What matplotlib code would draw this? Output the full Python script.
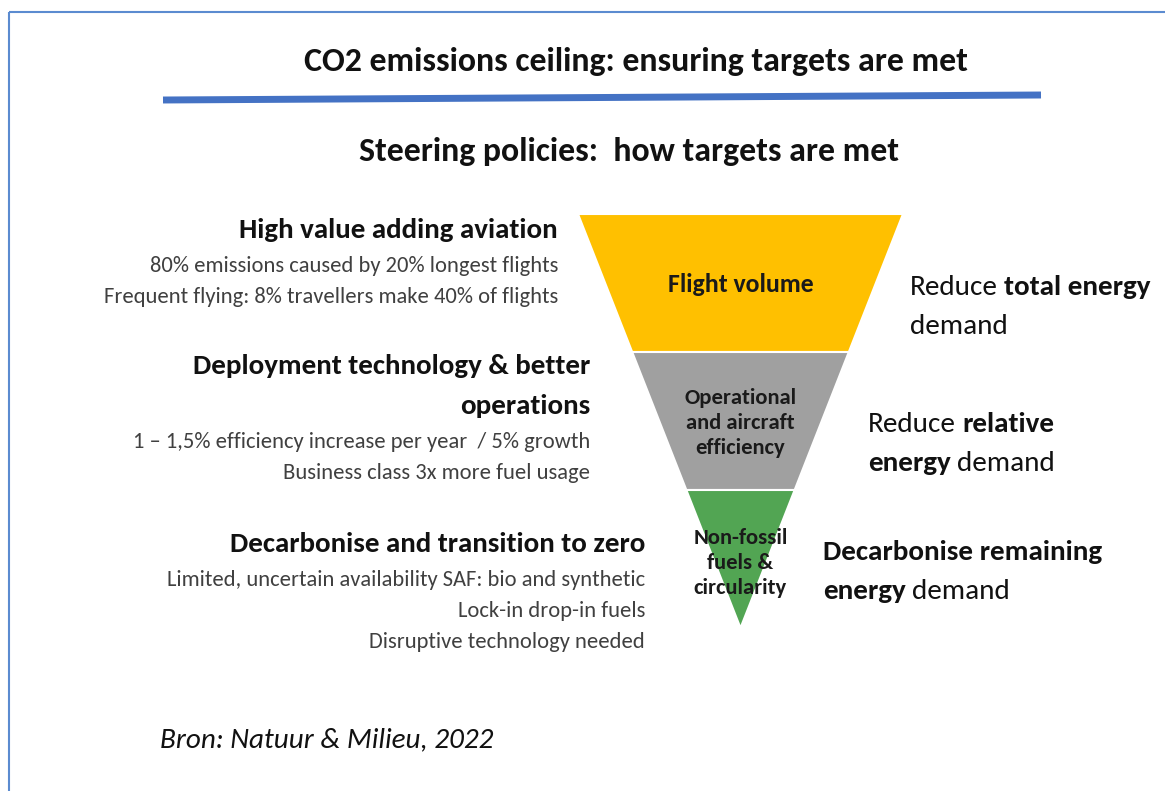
import matplotlib
matplotlib.use("Agg")
import matplotlib.pyplot as plt
from matplotlib import font_manager
from matplotlib.patches import Polygon, Rectangle

W, H = 1165, 791
names = {f.name for f in font_manager.fontManager.ttflist}
FONT = "Carlito" if "Carlito" in names else "Lato"

title = "CO2 emissions ceiling: ensuring targets are met"
subtitle = "Steering policies:  how targets are met"
source = "Bron: Natuur & Milieu, 2022"

# funnel stages, top to bottom
stages = ["Flight volume", "Operational\nand aircraft\nefficiency", "Non-fossil\nfuels &\ncircularity"]
stage_colors = ["#FFC000", "#A0A0A0", "#52A553"]
stage_share = [1, 1, 1]

# left side: policy headings and notes per stage
left_heads = [
    ["High value adding aviation"],
    ["Deployment technology & better", "operations"],
    ["Decarbonise and transition to zero"],
]
left_notes = [
    ["80% emissions caused by 20% longest flights",
     "Frequent flying: 8% travellers make 40% of flights"],
    ["1 \u2013 1,5% efficiency increase per year  / 5% growth",
     "Business class 3x more fuel usage"],
    ["Limited, uncertain availability SAF: bio and synthetic",
     "Lock-in drop-in fuels",
     "Disruptive technology needed"],
]
# right side: (text, bold) runs per line
right_lines = [
    [[("Reduce", False), ("total energy", True)], [("demand", False)]],
    [[("Reduce", False), ("relative", True)], [("energy", True), ("demand", False)]],
    [[("Decarbonise remaining", True)], [("energy", True), ("demand", False)]],
]

fig = plt.figure(figsize=(W / 100, H / 100), dpi=100)
ax = fig.add_axes([0, 0, 1, 1])
ax.set_xlim(0, W)
ax.set_ylim(H, 0)
ax.axis("off")
r = fig.canvas.get_renderer()

# frame and rule under the title
ax.add_patch(Rectangle((9, 12), W, H, fill=False, ec="#5B8BD0", lw=1.5))
ax.plot([163, 1041], [100, 95], color="#4472C4", lw=5, solid_capstyle="butt")

ax.text(636, 71, title, ha="center", va="baseline", fontsize=24.4,
        fontweight="bold", family=FONT, color="#111111")
ax.text(629, 161, subtitle, ha="center", va="baseline", fontsize=24.4,
        fontweight="bold", family=FONT, color="#111111")

# funnel
cx, top, tip, half = 740.5, 214, 628, 162.5
edges = [0]
for s in stage_share:
    edges.append(edges[-1] + s)
edges = [e / edges[-1] for e in edges]
label_y = [284, 423, 563]
for i, (lab, col) in enumerate(zip(stages, stage_colors)):
    y0 = top + edges[i] * (tip - top)
    y1 = top + edges[i + 1] * (tip - top)
    w0 = half * (1 - edges[i])
    w1 = half * (1 - edges[i + 1])
    ax.add_patch(Polygon([(cx - w0, y0), (cx + w0, y0), (cx + w1, y1), (cx - w1, y1)],
                         closed=True, fc=col, ec="white", lw=1.5))
    ax.text(cx, label_y[i], lab, ha="center", va="center",
            fontsize=18.5 if i == 0 else 16.3, fontweight="bold", family=FONT,
            color="#1a1a1a", linespacing=1.3)

# left texts
left_x = [558, 590, 645]
left_y = [238, 374, 552]
for x, y, heads, notes in zip(left_x, left_y, left_heads, left_notes):
    for h in heads:
        ax.text(x, y, h, ha="right", va="baseline", fontsize=20.9,
                fontweight="bold", family=FONT, color="#111111")
        y += 40
    y -= 6
    for n in notes:
        ax.text(x, y, n, ha="right", va="baseline", fontsize=16.2,
                family=FONT, color="#404040")
        y += 31


# right texts
def rich(x, y, parts, size):
    for s, bold in parts:
        t = ax.text(x, y, s, fontsize=size, fontweight="bold" if bold else "normal",
                    va="baseline", ha="left", family=FONT, color="#111111")
        x += t.get_window_extent(r).width + size * 0.31


right_x = [910, 868, 823]
right_y = [295, 432, 560]
for x, y, lines in zip(right_x, right_y, right_lines):
    for parts in lines:
        rich(x, y, parts, 21)
        y += 39

ax.text(160, 747, source, ha="left", va="baseline", fontsize=21,
        style="italic", family=FONT, color="#111111")

fig.savefig("out.png", dpi=100, facecolor="white")
